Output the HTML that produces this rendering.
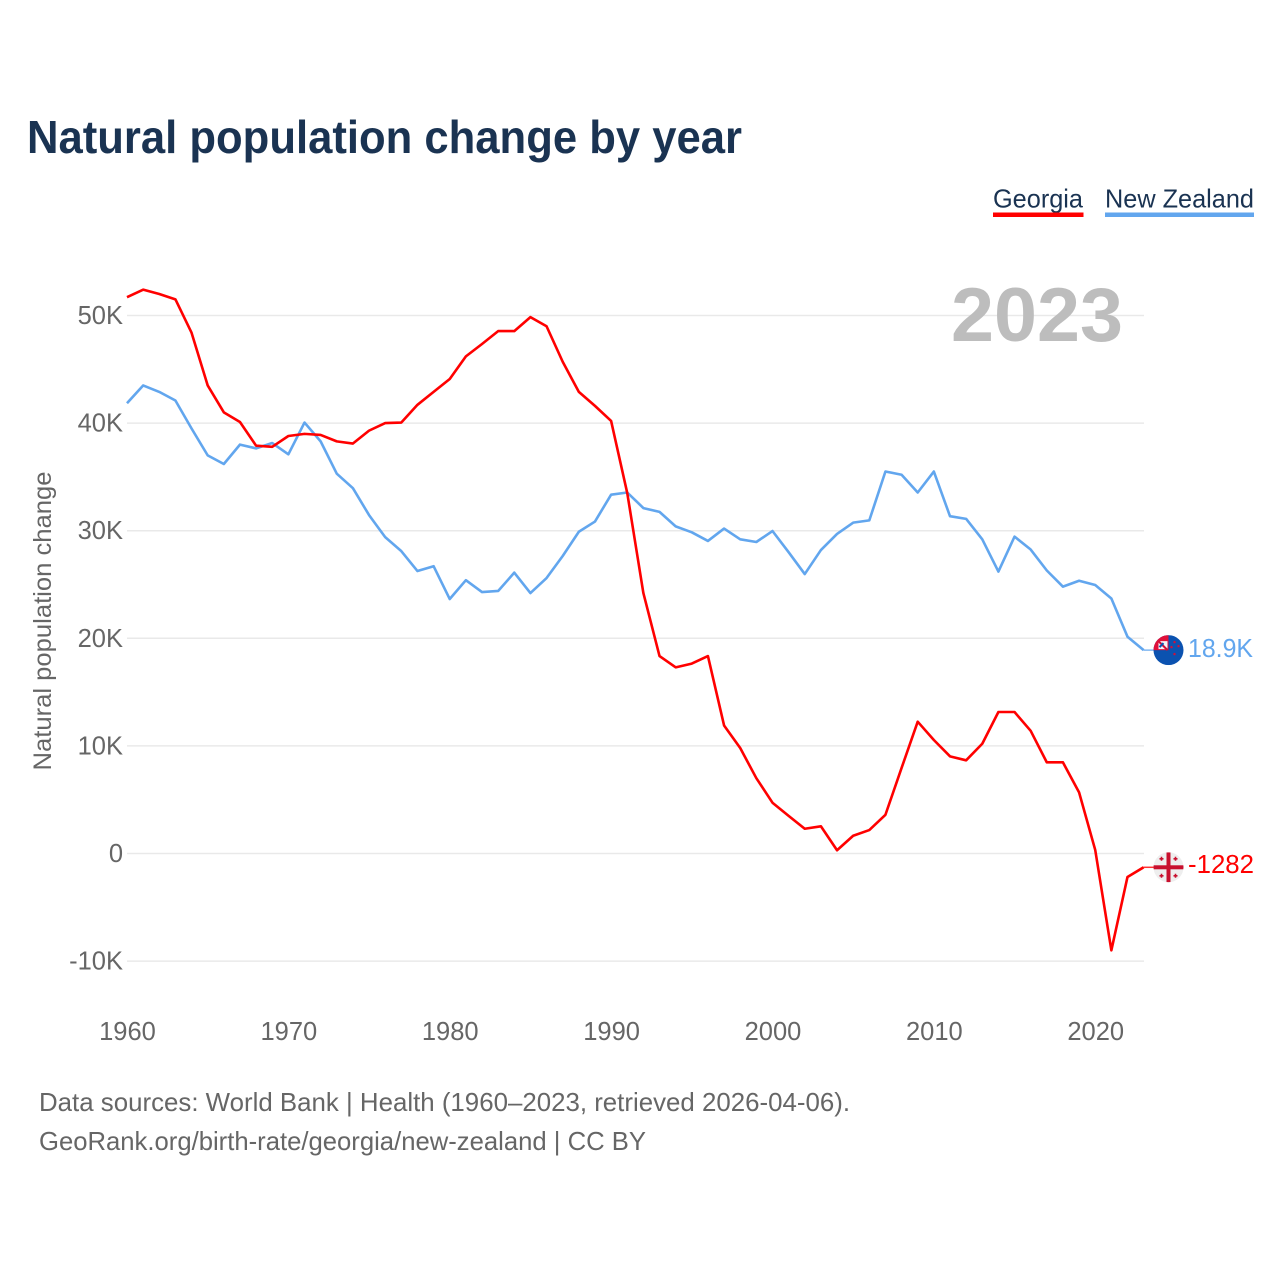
<!DOCTYPE html>
<html lang="en">
<head>
<meta charset="utf-8">
<title>Natural population change by year</title>
<style>
html,body{margin:0;padding:0;background:#fff;}
svg{display:block;font-family:"Liberation Sans",sans-serif;}
</style>
</head>
<body>
<svg id="chart" xmlns="http://www.w3.org/2000/svg" width="1280" height="1280" viewBox="0 0 1280 1280">
  <defs>
    <clipPath id="nz-clip"><circle cx="0" cy="0" r="15"/></clipPath>
    <clipPath id="ge-clip"><circle cx="0" cy="0" r="15"/></clipPath>
  </defs>
  <rect width="1280" height="1280" fill="#fff"/>
  <text x="27" y="153" font-size="46" font-weight="700" fill="#1a3352" textLength="715" lengthAdjust="spacingAndGlyphs">Natural population change by year</text>

  <g>
    <text x="993" y="207.5" font-size="26" fill="#1a3352" textLength="90" lengthAdjust="spacingAndGlyphs">Georgia</text>
    <rect x="993" y="212.5" width="90.5" height="4.5" fill="#ff0000"/>
  </g>
  <g>
    <text x="1105" y="207.5" font-size="26" fill="#1a3352" textLength="149" lengthAdjust="spacingAndGlyphs">New Zealand</text>
    <rect x="1105" y="212.5" width="149" height="4.5" fill="#62a6ee"/>
  </g>

  <g id="grid"></g>
  <text x="1123" y="341" text-anchor="end" font-size="76" font-weight="700" fill="#bdbdbd" textLength="172" lengthAdjust="spacingAndGlyphs">2023</text>
  <g id="y-ticks"></g>
  <g id="x-ticks"></g>
  <text transform="translate(51 621) rotate(-90)" text-anchor="middle" font-size="25" fill="#666" textLength="299" lengthAdjust="spacingAndGlyphs">Natural population change</text>

  <g id="series"></g>

  <g id="flag-nz">
    <g clip-path="url(#nz-clip)">
      <rect x="-15" y="-15" width="30" height="30" fill="#0b52b0"/>
      <rect x="-15" y="-15" width="15" height="15" fill="#e0103a"/>
      <rect x="-10" y="-9" width="9" height="8" fill="#f4f4f8"/>
      <path d="M-10 -9 L-1 0" stroke="#d0103a" stroke-width="2"/>
      <path d="M-9 -3 L-5 -7" stroke="#0b52b0" stroke-width="2"/>
      <circle cx="6" cy="-8" r="1.2" fill="#d0103a"/>
      <circle cx="10" cy="-4" r="1.2" fill="#d0103a"/>
      <circle cx="3" cy="-3" r="1.2" fill="#d0103a"/>
      <circle cx="6" cy="4" r="1.2" fill="#d0103a"/>
    </g>
  </g>
  <g id="flag-ge">
    <g clip-path="url(#ge-clip)">
      <rect x="-15" y="-15" width="30" height="30" fill="#eeeeee"/>
      <rect x="-2" y="-15" width="4" height="30" fill="#c8102e"/>
      <rect x="-15" y="-2" width="30" height="4" fill="#c8102e"/>
      <path d="M-9 -8.5h4M-7 -10.5v4M5 -8.5h4M7 -10.5v4M-9 8.5h4M-7 6.5v4M5 8.5h4M7 6.5v4" stroke="#c8102e" stroke-width="1.6" fill="none"/>
    </g>
  </g>
  <g id="end-labels"></g>

  <text x="39" y="1111" font-size="26" fill="#666" textLength="811" lengthAdjust="spacingAndGlyphs">Data sources: World Bank | Health (1960–2023, retrieved 2026-04-06).</text>
  <text x="39" y="1150" font-size="26" fill="#666" textLength="607" lengthAdjust="spacingAndGlyphs">GeoRank.org/birth-rate/georgia/new-zealand | CC BY</text>
</svg>
<script>
// Data (values in thousands, one per year from 1960)
const startYear = 1960;
const georgiaValues = [51.7,52.4,52.0,51.5,48.4,43.5,41.0,40.1,37.9,37.8,38.8,39.0,38.9,38.3,38.1,39.3,40.0,40.05,41.7,42.9,44.1,46.2,47.35,48.55,48.55,49.85,49.0,45.7,42.9,41.6,40.2,33.5,24.2,18.35,17.3,17.65,18.35,11.9,9.8,7.0,4.72,3.5,2.3,2.53,0.3,1.65,2.18,3.6,7.95,12.25,10.55,9.03,8.66,10.2,13.15,13.15,11.4,8.47,8.47,5.68,0.33,-9.0,-2.18,-1.282];
const newZealandValues = [41.85,43.5,42.9,42.1,39.5,37.0,36.2,38.0,37.65,38.15,37.1,40.05,38.3,35.3,33.95,31.45,29.4,28.1,26.25,26.7,23.65,25.4,24.3,24.4,26.1,24.2,25.6,27.65,29.9,30.85,33.35,33.55,32.1,31.75,30.4,29.85,29.05,30.2,29.2,28.95,29.97,28.0,25.97,28.2,29.7,30.75,30.96,35.5,35.2,33.55,35.5,31.35,31.1,29.2,26.2,29.45,28.25,26.3,24.8,25.35,24.95,23.7,20.15,18.9];
const yTickValues = [50,40,30,20,10,0,-10];
const yTickLabels = ["50K","40K","30K","20K","10K","0","-10K"];
const xTickYears = [1960,1970,1980,1990,2000,2010,2020];
const georgiaEndLabel = "-1282";
const newZealandEndLabel = "18.9K";

const NS = "http://www.w3.org/2000/svg";
function xScale(year){ return 127 + (year - 1960) * 16.137; }
function yScale(v){ return 853.5 - v * 10.76; }
function make(tag, attrs, parent){
  const el = document.createElementNS(NS, tag);
  for (const k in attrs) el.setAttribute(k, attrs[k]);
  parent.appendChild(el);
  return el;
}

const gridG = document.getElementById("grid");
const yG = document.getElementById("y-ticks");
yTickValues.forEach(function(v, i){
  const line = make("line", {x1: 127, x2: 1144, y1: yScale(v), y2: yScale(v), stroke: "#e9e9e9", "stroke-width": 1.5}, gridG);
  
  
  const t = make("text", {x: 123, y: yScale(v) + 8.5, "text-anchor": "end", "font-size": 25.5, fill: "#666"}, yG);
  t.textContent = yTickLabels[i];
  
  
});

const xG = document.getElementById("x-ticks");
xTickYears.forEach(function(year){
  const t = make("text", {x: xScale(year) + 0.5, y: 1040, "text-anchor": "middle", "font-size": 25.5, fill: "#666"}, xG);
  t.textContent = String(year);
  
  
});

const seriesG = document.getElementById("series");
function drawSeries(values, color, name){
  const pts = values.map(function(v, i){ return xScale(startYear + i).toFixed(2) + "," + yScale(v).toFixed(2); }).join(" ");
  const last = values[values.length - 1];
  const endX = xScale(startYear + values.length - 1);
  const lead = make("line", {x1: endX, x2: endX + 10, y1: yScale(last), y2: yScale(last), stroke: color, "stroke-width": 1.5, opacity: 0.8}, seriesG);
  
  
  const p = make("polyline", {points: pts, fill: "none", stroke: color, "stroke-width": 2.6, "stroke-linejoin": "round"}, seriesG);
  
  
}
drawSeries(newZealandValues, "#62a6ee", "new-zealand-line");
drawSeries(georgiaValues, "#ff0000", "georgia-line");

const nzLast = newZealandValues[newZealandValues.length - 1];
const geLast = georgiaValues[georgiaValues.length - 1];
document.getElementById("flag-nz").setAttribute("transform", "translate(1168.5 " + yScale(nzLast) + ")");
document.getElementById("flag-ge").setAttribute("transform", "translate(1168.5 " + yScale(geLast) + ")");

const endG = document.getElementById("end-labels");
const nzLabel = make("text", {x: 1188, y: yScale(nzLast) + 7, "font-size": 25.5, fill: "#62a6ee", textLength: 65, lengthAdjust: "spacingAndGlyphs"}, endG);
nzLabel.textContent = newZealandEndLabel;


const geLabel = make("text", {x: 1188, y: yScale(geLast) + 5.5, "font-size": 25.5, fill: "#ff0000", textLength: 66, lengthAdjust: "spacingAndGlyphs"}, endG);
geLabel.textContent = georgiaEndLabel;


</script>
</body>
</html>
